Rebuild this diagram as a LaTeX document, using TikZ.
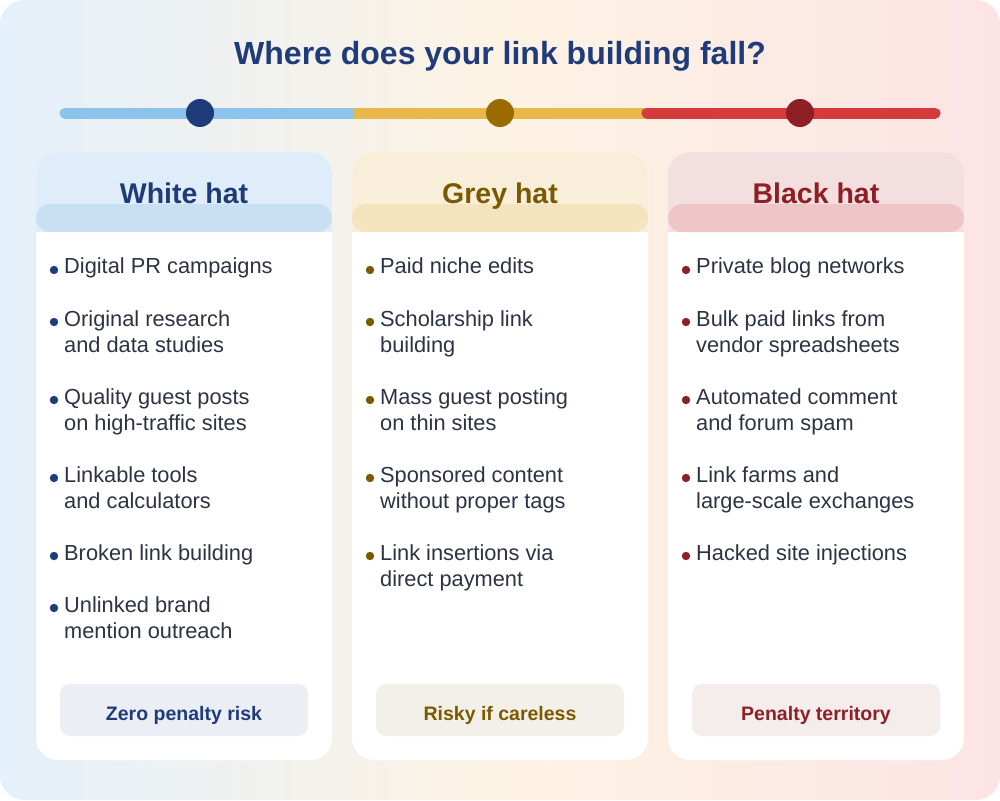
\documentclass[tikz,border=0pt]{standalone}
\usepackage{fontspec}
\setmainfont{Liberation Sans}
\begin{document}
\begin{tikzpicture}[x=1pt,y=-1pt,
  item/.style={anchor=north west,align=left,font=\fontsize{21.8}{26}\selectfont,inner sep=0pt},
  head/.style={font=\fontsize{28.5}{30}\selectfont\bfseries,text height=20pt,text depth=0pt,anchor=base},
  foot/.style={font=\fontsize{19.5}{22}\selectfont\bfseries,text height=14pt,text depth=0pt,anchor=base}]
\definecolor{wb}{HTML}{1F3B7A}\definecolor{gb}{HTML}{7A5A00}\definecolor{bb}{HTML}{8E1F24}
\definecolor{txt}{HTML}{2B3344}
\definecolor{wh1}{HTML}{DEEDF9}\definecolor{wh2}{HTML}{C9E0F4}\definecolor{wf}{HTML}{EBEEF4}
\definecolor{gh1}{HTML}{F9EEDA}\definecolor{gh2}{HTML}{F5E3BE}\definecolor{gf}{HTML}{F3F0E9}
\definecolor{bh1}{HTML}{F4DFE0}\definecolor{bh2}{HTML}{EFC6C8}\definecolor{bf}{HTML}{F5ECEC}
\useasboundingbox (0,0) rectangle (1000,800);
\shade[left color={rgb,255:red,228;green,240;blue,250}, right color={rgb,255:red,252;green,228;blue,228}, middle color={rgb,255:red,253;green,243;blue,228}, rounded corners=24] (0,0) rectangle (1000,800);
\node[font=\fontsize{32}{36}\selectfont\bfseries,text=wb] (title) at (500,56) {Where does your link building fall?};
\draw[line width=11,line cap=round,color={rgb,255:red,139;green,195;blue,235}] (65,113) -- (353,113);
\draw[line width=11,color={rgb,255:red,232;green,184;blue,74}] (353,113) -- (647,113);
\draw[line width=11,line cap=round,color={rgb,255:red,214;green,59;blue,59}] (647,113) -- (935,113);
\fill[wb] (200,113) circle (14);
\fill[color={rgb,255:red,156;green,107;blue,0}] (500,113) circle (14);
\fill[bb] (800,113) circle (14);
\newcommand\card[8]{%
 \fill[white,rounded corners=22] (#1,152) rectangle (#1+296,760);
 \begin{scope}
 \clip[rounded corners=22] (#1,152) rectangle (#1+296,300);
 \fill[#2] (#1,152) rectangle (#1+296,232);
 \fill[#3,rounded corners=14] (#1,204) rectangle (#1+296,232);
 \end{scope}
 \node[head,text=#4] (h#8) at (#1+148,203) {#5};
 \fill[#6,rounded corners=10] (#1+24,684) rectangle (#1+272,736);
 \node[foot,text=#4] (f#8) at (#1+148,720) {#7};}
\card{36}{wh1}{wh2}{wb}{White hat}{wf}{Zero penalty risk}{a}
\card{352}{gh1}{gh2}{gb}{Grey hat}{gf}{Risky if careless}{b}
\card{668}{bh1}{bh2}{bb}{Black hat}{bf}{Penalty territory}{c}
\newcommand\itm[5]{\fill[#3] (#1+18,#2+12) circle (4.2); \node[item,text=txt] (#4) at (#1+28,#2) {#5};}
\itm{36}{258}{wb}{a1}{Digital PR campaigns}
\itm{36}{310}{wb}{a2}{Original research\\and data studies}
\itm{36}{388}{wb}{a3}{Quality guest posts\\on high-traffic sites}
\itm{36}{466}{wb}{a4}{Linkable tools\\and calculators}
\itm{36}{544}{wb}{a5}{Broken link building}
\itm{36}{596}{wb}{a6}{Unlinked brand\\mention outreach}
\itm{352}{258}{gb}{b1}{Paid niche edits}
\itm{352}{310}{gb}{b2}{Scholarship link\\building}
\itm{352}{388}{gb}{b3}{Mass guest posting\\on thin sites}
\itm{352}{466}{gb}{b4}{Sponsored content\\without proper tags}
\itm{352}{544}{gb}{b5}{Link insertions via\\direct payment}
\itm{668}{258}{bb}{c1}{Private blog networks}
\itm{668}{310}{bb}{c2}{Bulk paid links from\\vendor spreadsheets}
\itm{668}{388}{bb}{c3}{Automated comment\\and forum spam}
\itm{668}{466}{bb}{c4}{Link farms and\\large-scale exchanges}
\itm{668}{544}{bb}{c5}{Hacked site injections}
\end{tikzpicture}
\end{document}
